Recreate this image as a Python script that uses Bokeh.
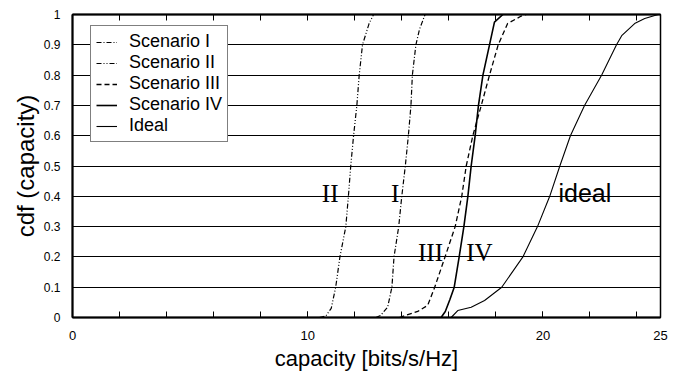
from bokeh.plotting import figure
from bokeh.models import Range1d, FixedTicker, LinearAxis, Legend, LegendItem, ColumnDataSource
from bokeh.embed import file_html
from bokeh.resources import INLINE
from bokeh.core.properties import value

# ---- data ----
s1_x = [12.9, 13.1, 13.4, 13.58, 13.67, 13.87, 14.0, 14.15, 14.28, 14.39, 14.45, 14.6, 14.75, 14.99]
s1_y = [0.0, 0.007, 0.034, 0.1, 0.2, 0.3, 0.4, 0.5, 0.6, 0.7, 0.8, 0.9, 0.95, 1.0]

s2_x = [10.5, 10.77, 11.0, 11.19, 11.37, 11.62, 11.73, 11.83, 11.95, 12.09, 12.19, 12.33, 12.61, 12.8]
s2_y = [0.0, 0.005, 0.03, 0.1, 0.2, 0.3, 0.4, 0.5, 0.6, 0.7, 0.8, 0.9, 0.97, 1.0]

s3_x = [13.9, 14.68, 15.1, 15.4, 15.84, 16.27, 16.55, 16.74, 17.02, 17.38, 17.73, 18.1, 18.5, 19.08, 19.3]
s3_y = [0.0, 0.02, 0.04, 0.1, 0.2, 0.3, 0.4, 0.5, 0.6, 0.7, 0.8, 0.9, 0.97, 0.995, 1.0]

s4_x = [14.7, 15.67, 15.85, 16.05, 16.23, 16.44, 16.64, 16.81, 16.95, 17.12, 17.26, 17.45, 17.73, 17.94, 18.3]
s4_y = [0.0, 0.0, 0.02, 0.06, 0.1, 0.2, 0.3, 0.4, 0.5, 0.6, 0.7, 0.8, 0.9, 0.975, 1.0]

ideal_x = [16.1, 16.38, 16.95, 17.52, 18.25, 19.15, 19.77, 20.29, 20.72, 21.17, 21.77, 22.5, 23.13, 23.35, 23.9, 24.33, 24.9]
ideal_y = [0.0, 0.023, 0.034, 0.056, 0.1, 0.2, 0.3, 0.4, 0.5, 0.6, 0.7, 0.8, 0.9, 0.93, 0.97, 0.987, 1.0]

series_names = ["Scenario I", "Scenario II", "Scenario III", "Scenario IV", "Ideal"]

x_major_ticks = [0, 10, 20, 25]
x_minor_ticks = [0, 2, 4, 6, 8, 10, 12, 14, 16, 18, 20, 22, 24]
y_ticks = [0, 0.1, 0.2, 0.3, 0.4, 0.5, 0.6, 0.7, 0.8, 0.9, 1]
y_tick_labels = ["0", "0.1", "0.2", "0.3", "0.4", "0.5", "0.6", "0.7", "0.8", "0.9", "1"]

roman_labels = ["II", "I", "III", "IV"]
roman_x = [10.6, 13.54, 14.69, 16.74]
roman_y = [0.41, 0.41, 0.215, 0.215]
ideal_label = ["ideal"]
ideal_label_x = [20.66]
ideal_label_y = [0.41]

SANS = "Liberation Sans"
SERIF = "Liberation Serif"

p = figure(width=679, height=378, output_backend="svg", toolbar_location=None,
           x_range=Range1d(0, 25), y_range=Range1d(0, 1),
           min_border_left=72, min_border_right=19, min_border_top=14, min_border_bottom=61)
p.background_fill_color = "white"
p.border_fill_color = "white"
p.outline_line_color = "black"
p.outline_line_width = 1.5

# grid
p.xgrid.visible = False
p.ygrid.ticker = FixedTicker(ticks=y_ticks)
p.ygrid.grid_line_color = "black"
p.ygrid.grid_line_width = 1.2

# x axis
xa = p.xaxis[0]
xa.ticker = FixedTicker(ticks=x_major_ticks, minor_ticks=x_minor_ticks)
xa.major_tick_in = 6
xa.major_tick_out = 0
xa.minor_tick_in = 6
xa.minor_tick_out = 0
xa.major_tick_line_color = "black"
xa.minor_tick_line_color = "black"
xa.axis_line_width = 2
xa.major_label_text_font = SANS
xa.major_label_text_font_size = "13px"
xa.major_label_text_color = "black"
xa.major_label_standoff = 13
xa.axis_label = "capacity [bits/s/Hz]"
xa.axis_label_text_font = SANS
xa.axis_label_text_font_size = "22px"
xa.axis_label_text_font_style = "normal"
xa.axis_label_text_color = "black"
xa.axis_label_standoff = 3

# top axis (tick marks only, no labels)
top = LinearAxis(ticker=FixedTicker(ticks=[], minor_ticks=x_minor_ticks))
top.major_tick_in = 6
top.major_tick_out = 0
top.minor_tick_in = 6
top.minor_tick_out = 0
top.minor_tick_line_color = "black"
top.axis_line_width = 2
top.major_label_standoff = 0
p.add_layout(top, "above")

# y axis
ya = p.yaxis[0]
ya.ticker = FixedTicker(ticks=y_ticks)
ya.major_label_overrides = dict(zip(y_ticks, y_tick_labels))
ya.major_tick_in = 0
ya.major_tick_out = 0
ya.minor_tick_line_color = None
ya.axis_line_width = 2
ya.major_label_text_font = SANS
ya.major_label_text_font_size = "12px"
ya.major_label_text_color = "black"
ya.major_label_standoff = 12
ya.axis_label = "cdf (capacity)"
ya.axis_label_text_font = SANS
ya.axis_label_text_font_size = "24px"
ya.axis_label_text_font_style = "normal"
ya.axis_label_text_color = "black"
ya.axis_label_standoff = 2

# curves
r1 = p.line(s1_x, s1_y, line_color="black", line_width=1.2, line_dash="5 2 1 2")
r2 = p.line(s2_x, s2_y, line_color="black", line_width=1.2, line_dash="5 2 1 2 1 2")
r3 = p.line(s3_x, s3_y, line_color="black", line_width=1.3, line_dash="5 3")
r4 = p.line(s4_x, s4_y, line_color="black", line_width=1.6)
r5 = p.line(ideal_x, ideal_y, line_color="black", line_width=1.1)

# in-plot labels
src_roman = ColumnDataSource(dict(x=roman_x, y=roman_y, t=roman_labels))
p.text(x="x", y="y", text="t", source=src_roman, text_font=value(SERIF),
       text_font_size="25px", text_color="black", text_align="left", text_baseline="alphabetic")
src_ideal = ColumnDataSource(dict(x=ideal_label_x, y=ideal_label_y, t=ideal_label))
p.text(x="x", y="y", text="t", source=src_ideal, text_font=value(SANS),
       text_font_size="25px", text_color="black", text_align="left", text_baseline="alphabetic")

legend = Legend(items=[LegendItem(label=n, renderers=[r]) for n, r in zip(series_names, [r1, r2, r3, r4, r5])],
                location=(18, 175))
legend.label_text_font = SANS
legend.label_text_font_size = "18px"
legend.label_text_color = "black"
legend.label_height = 20
legend.glyph_height = 20
legend.glyph_width = 21
legend.label_standoff = 12
legend.padding = 5
legend.spacing = 0
legend.margin = 0
legend.border_line_color = "black"
legend.border_line_width = 1
legend.background_fill_color = "white"
legend.background_fill_alpha = 1
p.add_layout(legend, "center")

open("out.html", "w").write(file_html(p, INLINE))
